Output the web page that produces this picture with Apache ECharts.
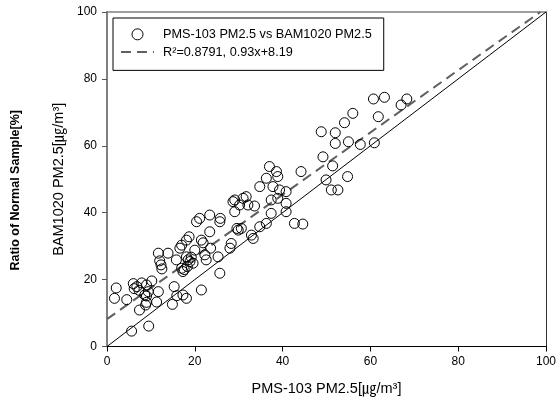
<!DOCTYPE html>
<html>
<head>
<meta charset="utf-8">
<script src="https://cdn.jsdelivr.net/npm/echarts@6/dist/echarts.min.js"></script>
<style>
html,body{margin:0;padding:0;background:#fff;}
#chart{width:559px;height:405px;}
</style>
</head>
<body>
<div id="chart"></div>
<script>
// ---- data ----
const pmsX = [1.7,2.1,4.5,5.6,9.5,7.4,8.8,9.0,6.0,6.2,6.8,7.3,7.9,9.0,9.4,8.6,10.2,11.3,11.7,9.0,11.7,12.0,12.3,12.5,13.9,
  15.3,14.9,15.9,17.3,18.1,21.5,15.8,17.0,17.3,17.6,16.6,17.0,18.1,18.7,18.1,18.5,18.9,19.2,20.0,20.4,21.1,21.5,21.9,22.3,22.6,23.4,23.4,23.6,25.3,25.7,25.7,25.8,28.0,18.3,19.6,
  28.3,28.7,29.1,29.1,30.2,31.0,29.6,29.9,30.6,31.7,32.1,33.6,32.9,33.3,34.8,36.3,34.8,36.3,37.0,38.6,38.9,37.8,37.4,38.9,39.3,40.8,40.8,37.4,40.8,42.7,44.6,44.2,
  48.8,49.2,51.4,49.9,51.1,52.6,54.8,52.0,52.0,54.1,55.0,56.0,57.7,60.9,61.8,60.7,63.2,67.0,68.3];
const bamY = [14.4,17.5,14.0,4.6,6.1,10.9,12.4,13.2,18.8,17.3,17.9,16.8,19.0,18.4,16.4,15.4,19.6,13.3,16.4,15.1,27.9,25.6,24.4,23.2,27.9,
  17.9,12.6,15.2,15.4,14.4,16.9,25.9,23.4,22.4,23.0,29.4,30.3,31.8,32.8,26.8,25.9,25.4,26.7,28.8,37.3,38.3,31.8,31.0,27.4,25.9,34.3,39.3,29.4,26.8,21.9,37.3,38.3,29.4,23.9,24.9,
  30.8,43.3,40.3,43.8,42.3,44.3,35.3,34.8,35.3,44.8,42.3,42.0,33.3,32.3,35.8,36.8,47.8,50.3,53.8,52.3,50.8,47.8,43.8,44.3,46.8,46.3,42.8,39.8,40.3,36.8,36.6,52.3,
  64.2,56.7,54.0,49.8,46.8,46.8,50.8,63.9,60.7,66.9,61.2,69.7,60.4,60.9,68.7,74.0,74.5,72.2,74.0];
const fitSlope = 0.93;
const fitIntercept = 8.19;
const fitR2 = 0.8791;
const oneToOne = [[0, 0], [100, 100]];
const axisTicks = [0, 20, 40, 60, 80, 100];

const scatterName = 'PMS-103 PM2.5 vs BAM1020 PM2.5';
const fitName = 'R²=' + fitR2.toFixed(4) + ', ' + fitSlope + 'x+' + fitIntercept;
const points = pmsX.map((x, i) => [x, bamY[i]]);
const fitEndX = (axisTicks[axisTicks.length - 1] - fitIntercept) / fitSlope;
const fitLine = [[0, fitIntercept], [fitEndX, fitSlope * fitEndX + fitIntercept]];

const FONT = '"Liberation Sans", Arial, "Noto Sans CJK KR", sans-serif';
const chart = echarts.init(document.getElementById('chart'), null, {renderer: 'canvas'});
chart.setOption({
  animation: false,
  backgroundColor: '#fff',
  textStyle: {fontFamily: FONT},
  grid: {left: 107, right: 13, top: 12, bottom: 58.5, containLabel: false},
  legend: {
    left: 113, top: 18, orient: 'vertical',
    padding: [10, 12, 12, 7],
    itemGap: 5, itemWidth: 33, itemHeight: 11,
    borderColor: '#000', borderWidth: 1, borderRadius: 0,
    textStyle: {fontSize: 12.7, color: '#000', fontFamily: FONT, padding: [0, 0, 0, 4]},
    data: [
      {name: scatterName, icon: 'circle', itemStyle: {color: 'transparent', borderColor: '#000', borderWidth: 1}},
      {name: fitName, itemStyle: {opacity: 0}, lineStyle: {color: '#606060', width: 2, type: [10, 6], opacity: 1}}
    ]
  },
  xAxis: [{
    type: 'value', min: 0, max: 100, interval: 20,
    name: 'PMS-103 PM2.5[㎍/m³]', nameLocation: 'middle', nameGap: 35,
    nameTextStyle: {fontSize: 14.5, color: '#000', fontFamily: FONT},
    axisLine: {onZero: false, lineStyle: {color: '#000', width: 1}},
    axisTick: {show: true, length: 5, lineStyle: {color: '#000'}},
    axisLabel: {fontSize: 12, color: '#000', margin: 9, fontFamily: FONT},
    splitLine: {show: false}
  }, {
    type: 'value', min: 0, max: 100, position: 'top',
    axisLine: {show: true, onZero: false, lineStyle: {color: '#808080', width: 1.5}},
    axisTick: {show: false}, axisLabel: {show: false}, splitLine: {show: false}
  }],
  yAxis: [{
    type: 'value', min: 0, max: 100, interval: 20,
    name: 'BAM1020 PM2.5[㎍/m³]', nameLocation: 'middle', nameGap: 35, nameRotate: 90,
    nameTextStyle: {fontSize: 14.5, color: '#000', fontFamily: FONT},
    axisLine: {onZero: false, lineStyle: {color: '#808080', width: 2}},
    axisTick: {show: true, length: 5, lineStyle: {color: '#555'}},
    axisLabel: {fontSize: 12, color: '#000', margin: 10, fontFamily: FONT},
    splitLine: {show: false}
  }, {
    type: 'value', min: 0, max: 100, position: 'right',
    axisLine: {show: true, onZero: false, lineStyle: {color: '#333', width: 1}},
    axisTick: {show: false}, axisLabel: {show: false}, splitLine: {show: false}
  }],
  graphic: [{
    type: 'text', left: 9, top: 110, rotation: Math.PI / 2,
    style: {text: 'Ratio of Normal Sample[%]', font: 'bold 12.5px ' + FONT, fill: '#000'}
  }],
  series: [{
    name: 'oneToOne', type: 'line', data: oneToOne, symbol: 'none', silent: true,
    lineStyle: {color: '#000', width: 1}, z: 1
  }, {
    name: fitName, type: 'line', data: fitLine, symbol: 'none', silent: true,
    lineStyle: {color: '#606060', width: 2, type: [10, 6]}, itemStyle: {color: '#606060'}, z: 2
  }, {
    name: scatterName, type: 'scatter', data: points, symbol: 'circle', symbolSize: 10,
    itemStyle: {color: 'transparent', borderColor: '#000', borderWidth: 1, opacity: 1}, z: 3
  }]
});
</script>
</body>
</html>
